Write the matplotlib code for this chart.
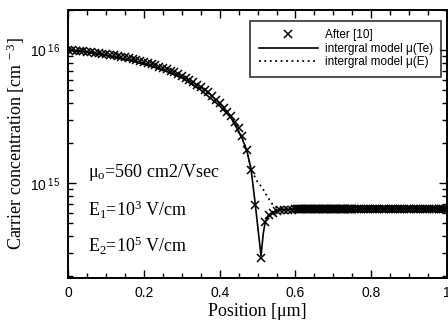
import numpy as np
import matplotlib
matplotlib.use("Agg")
import matplotlib.pyplot as plt
from matplotlib.ticker import FixedLocator, NullFormatter

plt.rcParams['mathtext.fontset'] = 'custom'
plt.rcParams['mathtext.rm'] = 'Liberation Serif'
plt.rcParams['mathtext.it'] = 'Liberation Serif:italic'
plt.rcParams['mathtext.sf'] = 'Liberation Sans'

# ---- data: reference points "After [10]" ----
ref_x = [0.00, 0.01, 0.02, 0.03, 0.04, 0.05, 0.06, 0.07, 0.08, 0.09,
         0.10, 0.11, 0.12, 0.13, 0.14, 0.15, 0.16, 0.17, 0.18, 0.19,
         0.20, 0.21, 0.22, 0.23, 0.24, 0.25, 0.26, 0.27, 0.28, 0.29,
         0.30, 0.31, 0.32, 0.33, 0.34, 0.35, 0.36, 0.37, 0.38, 0.39,
         0.40, 0.41, 0.42, 0.43, 0.44, 0.45, 0.46, 0.472, 0.483, 0.494,
         0.509, 0.520, 0.530, 0.540, 0.550, 0.560, 0.570, 0.580, 0.590]
ref_y = [1.00e16, 1.00e16, 9.9e15, 9.8e15, 9.8e15, 9.7e15, 9.65e15, 9.55e15, 9.45e15, 9.35e15,
         9.3e15, 9.2e15, 9.1e15, 9.0e15, 8.9e15, 8.8e15, 8.7e15, 8.55e15, 8.4e15, 8.3e15,
         8.15e15, 8.0e15, 7.85e15, 7.7e15, 7.5e15, 7.35e15, 7.15e15, 7.0e15, 6.8e15, 6.6e15,
         6.4e15, 6.2e15, 5.95e15, 5.75e15, 5.5e15, 5.25e15, 5.0e15, 4.8e15, 4.5e15, 4.25e15,
         4.0e15, 3.7e15, 3.45e15, 3.2e15, 2.9e15, 2.6e15, 2.25e15, 1.78e15, 1.26e15, 6.9e14,
         2.75e14, 5.1e14, 5.75e14, 6.0e14, 6.15e14, 6.3e14, 6.35e14, 6.35e14, 6.35e14]
# flat region: dense sampling, constant level
flat_x_dense = np.round(np.arange(0.600, 0.750, 0.003), 3)
flat_x_sparse = np.round(np.arange(0.750, 1.001, 0.006), 3)
flat_level = 6.4e14

# ---- data: integral model mu(Te) (solid) ----
te_x = [0.00, 0.05, 0.10, 0.15, 0.20, 0.25, 0.30, 0.35, 0.40, 0.43, 0.45, 0.46,
        0.472, 0.483, 0.494, 0.509, 0.515, 0.520, 0.530, 0.545, 0.560, 0.600, 1.00]
te_y = [1.00e16, 9.66e15, 9.12e15, 8.51e15, 7.85e15, 7.08e15, 6.17e15, 5.01e15, 3.80e15,
        3.09e15, 2.45e15, 2.14e15, 1.74e15, 1.26e15, 6.9e14, 2.85e14, 4.2e14, 5.1e14,
        5.75e14, 6.15e14, 6.3e14, 6.4e14, 6.4e14]

# ---- data: integral model mu(E) (dotted) ----
e_x = [0.00, 0.05, 0.10, 0.15, 0.20, 0.25, 0.30, 0.35, 0.40, 0.43, 0.45, 0.46,
       0.472, 0.483, 0.494, 0.500, 0.512, 0.525, 0.540, 0.550, 0.570, 0.600, 1.00]
e_y = [1.00e16, 9.66e15, 9.12e15, 8.51e15, 7.85e15, 7.08e15, 6.17e15, 5.01e15, 3.80e15,
       3.09e15, 2.45e15, 2.14e15, 1.74e15, 1.26e15, 1.1e15, 1.02e15, 9.3e14, 8.0e14,
       6.9e14, 6.6e14, 6.45e14, 6.4e14, 6.4e14]

x_ticks = [0, 0.2, 0.4, 0.6, 0.8, 1]
x_ticklabels = ['0', '0.2', '0.4', '0.6', '0.8', '1']
y_ticks = [1e15, 1e16]
y_ticklabels = ['10$^{\\mathsf{\\ 15}}$', '10$^{\\mathsf{\\ 16}}$']

fig = plt.figure(figsize=(4.48, 3.3), dpi=100)
ax = fig.add_axes([0.1525, 0.158, 0.845, 0.812])

serif = 'Liberation Serif'
sans = 'Liberation Sans'

ax.plot(te_x, te_y, color='black', lw=1.2, label='intergral model \u03bc(Te)', zorder=2)
ax.plot(e_x, e_y, color='black', lw=1.3, linestyle=(0, (1, 2)), label='intergral model \u03bc(E)', zorder=2)
allx = list(ref_x) + list(flat_x_dense) + list(flat_x_sparse)
ally = list(ref_y) + [flat_level] * (len(flat_x_dense) + len(flat_x_sparse))
ax.plot(allx, ally, linestyle='none', marker='x', ms=6, mew=1.1, color='black',
        label='After [10]', zorder=3)

ax.set_yscale('log')
ax.set_xlim(0, 1)
ax.set_ylim(1.95e14, 2.0e16)

ax.set_xticks(x_ticks)
ax.set_xticklabels(x_ticklabels, fontname=sans, fontsize=10)
ax.xaxis.set_minor_locator(FixedLocator([i * 0.05 for i in range(21)]))
ax.set_yticks(y_ticks)
ax.set_yticklabels(y_ticklabels, fontname=sans, fontsize=10)
ax.yaxis.set_minor_locator(FixedLocator([k * 10 ** e for e in (14, 15) for k in range(2, 10)] + [2e16]))
ax.yaxis.set_minor_formatter(NullFormatter())

ax.tick_params(which='both', direction='in', top=True, right=True, width=1.0)
ax.tick_params(which='major', length=6, pad=6)
ax.tick_params(which='minor', length=3.5)
for s in ax.spines.values():
    s.set_linewidth(1.4)

ax.set_xlabel('Position [\u03bcm]', fontname=serif, fontsize=13, labelpad=2)
ax.set_ylabel('Carrier concentration [cm$^{\\ -3}$]', fontname=serif, fontsize=13, labelpad=2)

ax.text(0.052, 0.392, '\u03bc$_{\\rm o}$=560 cm2/Vsec', transform=ax.transAxes,
        fontname=serif, fontsize=13, va='center', ha='left')
ax.text(0.052, 0.254, 'E$_{1}$=10$^{3}$ V/cm', transform=ax.transAxes,
        fontname=serif, fontsize=13, va='center', ha='left')
ax.text(0.052, 0.119, 'E$_{2}$=10$^{5}$ V/cm', transform=ax.transAxes,
        fontname=serif, fontsize=13, va='center', ha='left')

handles, labels = ax.get_legend_handles_labels()
order = [2, 0, 1]
leg = ax.legend([handles[i] for i in order], [labels[i] for i in order],
                loc='upper right', bbox_to_anchor=(0.985, 0.96),
                prop={'family': sans, 'size': 8.5}, frameon=True, fancybox=False,
                edgecolor='black', handlelength=5.0, handletextpad=0.6,
                labelspacing=0.15, borderpad=0.7, borderaxespad=0.0)
leg.get_frame().set_linewidth(1.2)

fig.savefig('out.png', dpi=100)
